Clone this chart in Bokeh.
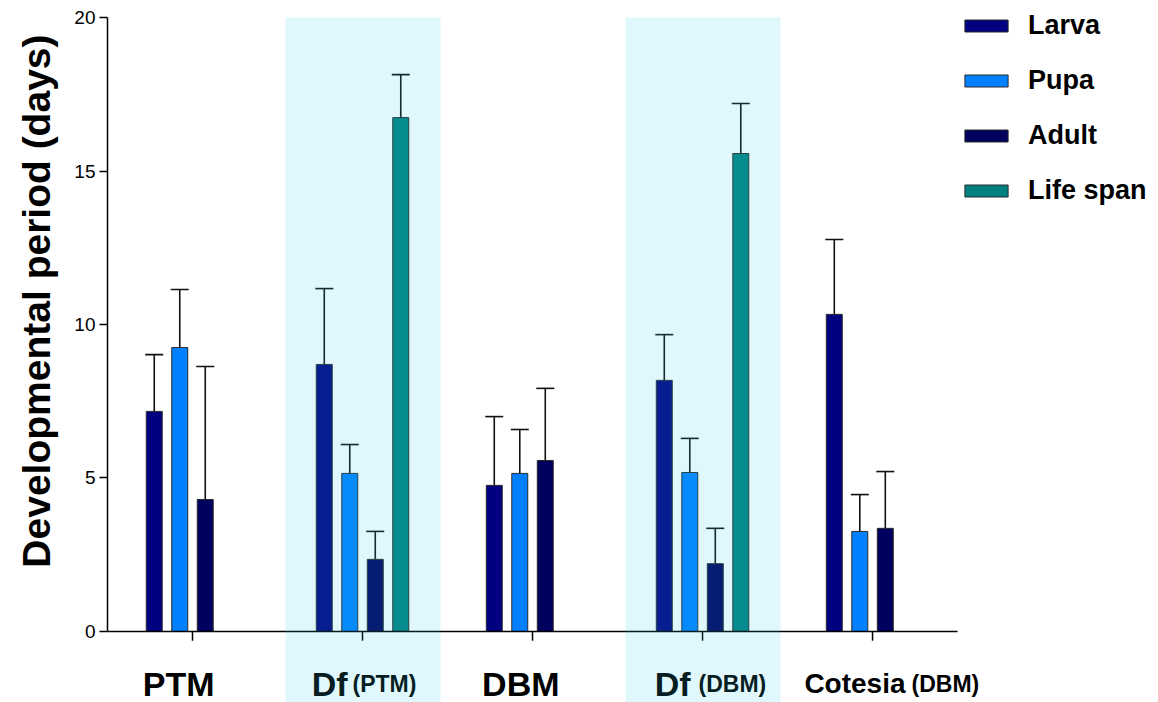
import numpy as np
from bokeh.plotting import figure
from bokeh.models import ColumnDataSource, Legend, LegendItem, FixedTicker, Range1d, Title
from bokeh.core.properties import value
from bokeh.embed import file_html
from bokeh.resources import INLINE

# ---------------- data ----------------
categories = ["PTM", "Df (PTM)", "DBM", "Df (DBM)", "Cotesia (DBM)"]
label_main = ["PTM", "Df", "DBM", "Df", "Cotesia"]
label_sub = ["", "(PTM)", "", "(DBM)", "(DBM)"]
shaded = [False, True, False, True, False]

stages = ["Larva", "Pupa", "Adult", "Life span"]
larva = [7.17, 8.70, 4.76, 8.18, 10.33]
larva_err = [1.85, 2.47, 2.24, 1.49, 2.44]
pupa = [9.25, 5.15, 5.15, 5.18, 3.26]
pupa_err = [1.89, 0.94, 1.43, 1.11, 1.20]
adult = [4.30, 2.35, 5.57, 2.21, 3.36]
adult_err = [4.33, 0.91, 2.35, 1.15, 1.85]
lifespan = [None, 16.74, None, 15.57, None]
lifespan_err = [None, 1.40, None, 1.63, None]

y_ticks = [0, 5, 10, 15, 20]
y_title = "Developmental period (days)"

# ---------------- style ----------------
colors = ["#000080", "#0080FF", "#00005E", "#008080"]
slot_offsets = [-0.225, -0.075, 0.075, 0.225]
bar_width = 0.094
FONT = "Liberation Sans"

p = figure(width=1158, height=702, output_backend="svg", toolbar_location=None,
           x_range=Range1d(-0.5, 5.682), y_range=Range1d(-2.313, 20.554),
           x_axis_location=None,
           min_border_left=107, min_border_right=0, min_border_top=0, min_border_bottom=0)
p.grid.visible = False
p.outline_line_color = None
p.background_fill_color = "white"
p.border_fill_color = "white"

ax = p.yaxis[0]
ax.ticker = FixedTicker(ticks=y_ticks)
ax.bounds = (0, 20)
ax.axis_line_color = "black"
ax.axis_line_width = 1.5
ax.major_tick_line_color = "black"
ax.major_tick_line_width = 1.5
ax.major_tick_out = 8
ax.major_tick_in = 0
ax.minor_tick_line_color = None
ax.major_label_text_font = FONT
ax.major_label_text_font_size = "19px"
ax.major_label_text_color = "black"
ax.major_label_standoff = 4

# y-axis title, anchored at its top end
p.add_layout(Title(text=y_title, align="right", offset=34, vertical_align="top", standoff=24,
                   text_font=FONT, text_font_size="39px", text_font_style="bold",
                   text_color="black"), "left")

n = len(categories)
idx = np.arange(n)

series = [(larva, larva_err), (pupa, pupa_err), (adult, adult_err), (lifespan, lifespan_err)]
legend_items = []
for k, (vals, errs) in enumerate(series):
    xs, tops, his = [], [], []
    for i in range(n):
        if vals[i] is None:
            continue
        xs.append(i + slot_offsets[k])
        tops.append(vals[i])
        his.append(vals[i] + errs[i])
    src = ColumnDataSource(dict(x=xs, top=tops, hi=his))
    p.segment(x0="x", y0="top", x1="x", y1="hi", source=src, line_color="#111111", line_width=1.6)
    p.scatter(x="x", y="hi", source=src, marker="dash", size=18, line_color="#111111", line_width=1.6)
    r = p.vbar(x="x", top="top", bottom=0, width=bar_width, source=src,
               fill_color=colors[k], line_color="#2a2a2a", line_width=1)
    legend_items.append(LegendItem(label=stages[k], renderers=[r]))

# x axis line and category ticks
p.segment(x0=[-0.5], y0=[0], x1=[n - 0.5], y1=[0], line_color="black", line_width=1.5)
p.segment(x0=idx, y0=np.zeros(n), x1=idx, y1=np.full(n, -0.3), line_color="black", line_width=1.5)

# category labels
main_end = [22, -15, 27, -12, 33]
sub_start = [0, -10, 0, -4, 39]
main_size = ["34px", "34px", "34px", "34px", "28px"]
lab_src = ColumnDataSource(dict(x=idx, y=np.full(n, -1.7), main=label_main, sub=label_sub,
                                moff=main_end, soff=sub_start, msize=main_size))
p.text(x="x", y="y", text="main", source=lab_src, x_offset="moff", text_align="right",
       text_baseline="alphabetic", text_font=value(FONT), text_font_style="bold",
       text_font_size="msize", text_color="black")
p.text(x="x", y="y", text="sub", source=lab_src, x_offset="soff", text_align="left",
       text_baseline="alphabetic", text_font=value(FONT), text_font_style="bold",
       text_font_size="23px", text_color="black")

# light-blue shading over the Df groups
sh = [i for i in range(n) if shaded[i]]
p.quad(left=[i - 0.453 for i in sh], right=[i + 0.459 for i in sh],
       bottom=[-5] * len(sh), top=[20] * len(sh),
       fill_color="#29CFE8", fill_alpha=0.145, line_color=None)

legend = Legend(items=legend_items, location=(852, 496), orientation="vertical",
                glyph_width=54, glyph_height=15, label_height=30, label_standoff=15,
                spacing=24, padding=0, margin=0, border_line_color=None,
                background_fill_alpha=0, label_text_font=FONT,
                label_text_font_size="27px", label_text_font_style="bold",
                label_text_color="black")
p.add_layout(legend)

open("out.html", "w").write(file_html(p, INLINE))
